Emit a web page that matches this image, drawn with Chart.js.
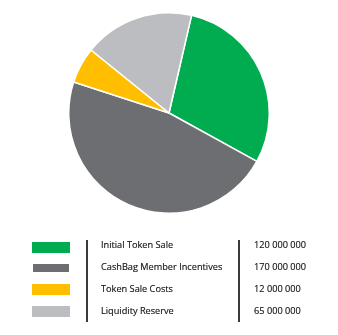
<!DOCTYPE html>
<html>
<head>
<meta charset="utf-8">
<script src="https://cdn.jsdelivr.net/npm/chart.js@4/dist/chart.umd.min.js"></script>
<style>
  body { margin: 0; width: 338px; height: 335px; background: #fff; position: relative; overflow: hidden; font-family: "Open Sans", sans-serif; }
  #pieWrap { position: absolute; left: 68px; top: 12px; width: 202px; height: 202px; }
  #legend { position: absolute; left: 0; top: 0; width: 338px; height: 335px; }
  .sw { position: absolute; left: 32px; width: 38px; height: 11px; }
  .lbl, .val { position: absolute; font-size: 9.2px; color: #141414; line-height: 12px; white-space: nowrap; -webkit-text-stroke: 0.15px #141414; }
  .lbl { left: 101px; }
  .val { left: 254px; }
  .vline { position: absolute; top: 240px; width: 1.5px; height: 82px; background: #3a3a3a; }
</style>
</head>
<body>
<div id="pieWrap"><canvas id="pie"></canvas></div>
<div id="legend"></div>
<script>
const categories = ["Initial Token Sale", "CashBag Member Incentives", "Token Sale Costs", "Liquidity Reserve"];
const amounts = [120000000, 170000000, 12000000, 65000000];
// slice shares as drawn in the picture (percent)
const shares = [29.4, 47.0, 5.8, 17.8];
const colors = ["#00ac4f", "#6d6e71", "#ffbf00", "#bcbdc0"];

new Chart(document.getElementById("pie"), {
    type: "pie",
    data: {
        labels: categories,
        datasets: [{
            data: shares,
            backgroundColor: colors,
            borderColor: "#ffffff",
            borderWidth: 1.5
        }]
    },
    options: {
        responsive: true,
        maintainAspectRatio: false,
        animation: false,
        rotation: 13,
        plugins: { legend: { display: false }, tooltip: { enabled: false } }
    }
});

// table legend under the pie
const legend = document.getElementById("legend");
const rowTop = [242, 264, 284, 306];
const rowH = [11, 8, 11, 11];
function fmt(n) { return String(n).replace(/\B(?=(\d{3})+(?!\d))/g, " "); }
categories.forEach((c, i) => {
    const sw = document.createElement("div");
    sw.className = "sw";
    sw.style.top = rowTop[i] + "px";
    sw.style.height = rowH[i] + "px";
    sw.style.background = colors[i];
    if (i === 1) { sw.style.left = "33px"; sw.style.width = "36px"; }
    legend.appendChild(sw);
    const l = document.createElement("div");
    l.className = "lbl";
    l.style.top = (239 + i * 22) + "px";
    l.textContent = c;
    legend.appendChild(l);
    const v = document.createElement("div");
    v.className = "val";
    v.style.top = (239 + i * 22) + "px";
    v.textContent = fmt(amounts[i]);
    legend.appendChild(v);
});
[86, 238].forEach(x => {
    const ln = document.createElement("div");
    ln.className = "vline";
    ln.style.left = x + "px";
    legend.appendChild(ln);
});
</script>
</body>
</html>
